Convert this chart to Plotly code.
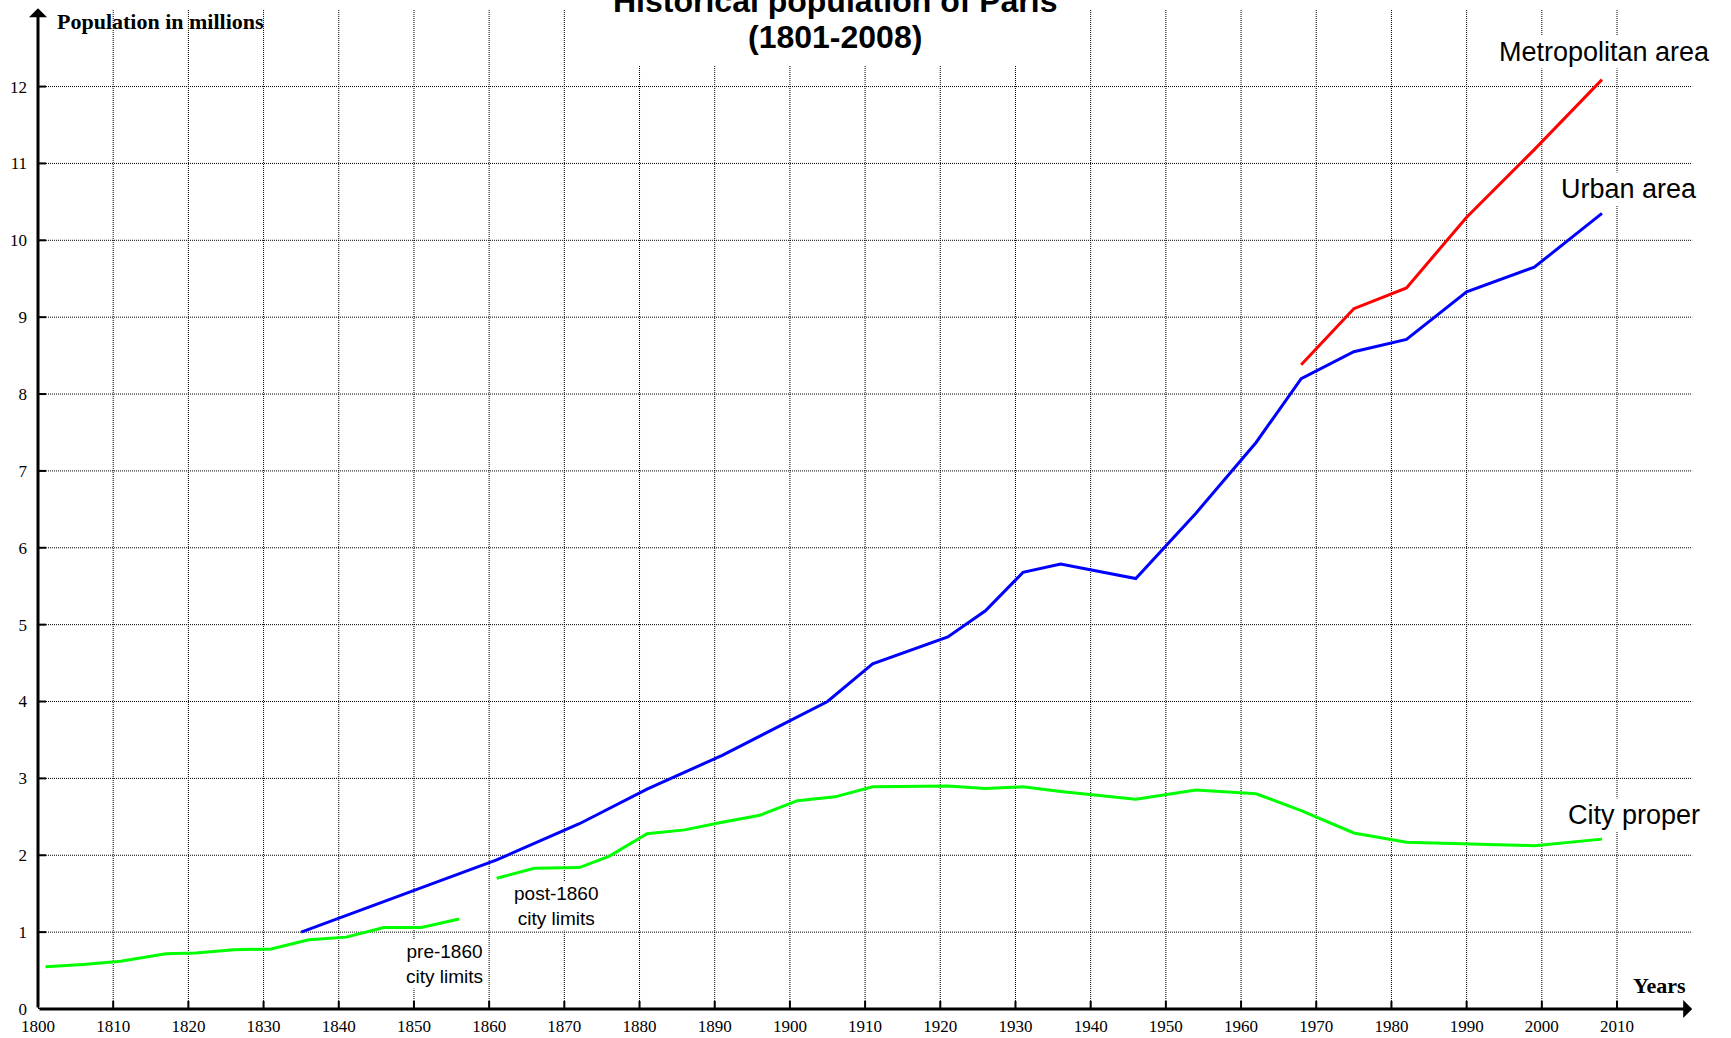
import plotly.graph_objects as go

# ---- data (millions of inhabitants) ----
city_pre_years = [1801, 1806, 1811, 1817, 1821, 1826, 1831, 1836, 1841, 1846, 1851, 1856]
city_pre_pop = [0.55, 0.58, 0.62, 0.72, 0.73, 0.77, 0.78, 0.90, 0.935, 1.06, 1.06, 1.17]

city_post_years = [1861, 1866, 1872, 1876, 1881, 1886, 1891, 1896, 1901, 1906, 1911, 1921,
                   1926, 1931, 1936, 1946, 1954, 1962, 1968, 1975, 1982, 1990, 1999, 2008]
city_post_pop = [1.70, 1.83, 1.84, 1.99, 2.28, 2.33, 2.43, 2.52, 2.71, 2.76, 2.89, 2.90,
                 2.87, 2.89, 2.83, 2.73, 2.85, 2.80, 2.58, 2.29, 2.17, 2.15, 2.125, 2.21]

urban_years = [1835, 1861, 1872, 1881, 1891, 1901, 1905, 1911, 1921, 1926, 1931, 1936,
               1946, 1954, 1962, 1968, 1975, 1982, 1990, 1999, 2008]
urban_pop = [1.00, 1.94, 2.41, 2.86, 3.30, 3.80, 4.00, 4.49, 4.84, 5.18, 5.68, 5.79,
             5.60, 6.45, 7.37, 8.20, 8.55, 8.71, 9.33, 9.65, 10.35]

metro_years = [1968, 1975, 1982, 1990, 1999, 2008]
metro_pop = [8.38, 9.11, 9.38, 10.30, 11.18, 12.09]

x_ticks = list(range(1800, 2011, 10))
y_ticks = list(range(0, 13))

X_MIN, X_MAX = 1800, 2022.5
Y_MIN, Y_MAX = 0, 13.1
X_GRID_END = 2020
Y_GRID_END = 13.0

fig = go.Figure()

line_w = 3
fig.add_trace(go.Scatter(x=city_pre_years, y=city_pre_pop, mode="lines",
                         line=dict(color="#00FF00", width=line_w), showlegend=False, hoverinfo="x+y"))
fig.add_trace(go.Scatter(x=city_post_years, y=city_post_pop, mode="lines",
                         line=dict(color="#00FF00", width=line_w), showlegend=False, hoverinfo="x+y"))
fig.add_trace(go.Scatter(x=urban_years, y=urban_pop, mode="lines",
                         line=dict(color="#0000FF", width=line_w), showlegend=False, hoverinfo="x+y"))
fig.add_trace(go.Scatter(x=metro_years, y=metro_pop, mode="lines",
                         line=dict(color="#FF0000", width=line_w), showlegend=False, hoverinfo="x+y"))

shapes = []
grid_style = dict(color="#000000", width=1, dash="1px,1px")
# vertical grid lines
for t in x_ticks[1:]:
    shapes.append(dict(type="line", xref="x", yref="y", x0=t, x1=t, y0=0, y1=Y_GRID_END,
                       line=grid_style, layer="below"))
# horizontal grid lines
for v in y_ticks[1:]:
    shapes.append(dict(type="line", xref="x", yref="y", x0=X_MIN, x1=X_GRID_END, y0=v, y1=v,
                       line=grid_style, layer="below"))
# white box behind the title
shapes.append(dict(type="rect", xref="x", yref="y", x0=1876.5, x1=1935.5, y0=12.28, y1=13.3,
                   fillcolor="white", line=dict(width=0), layer="below"))
# tick marks crossing the axes
for t in x_ticks:
    shapes.append(dict(type="line", xref="x", yref="y", ysizemode="pixel", yanchor=0,
                       x0=t, x1=t, y0=-8, y1=8, line=dict(color="black", width=2)))
for v in y_ticks:
    shapes.append(dict(type="line", xref="x", yref="y", xsizemode="pixel", xanchor=X_MIN,
                       x0=-8, x1=8, y0=v, y1=v, line=dict(color="black", width=2)))

annotations = []
# axis arrows
annotations.append(dict(x=X_GRID_END, y=0, ax=X_MIN, ay=0, xref="x", yref="y", axref="x", ayref="y",
                        text="", showarrow=True, arrowhead=1, arrowsize=1, arrowwidth=3,
                        arrowcolor="black", standoff=0, startstandoff=0))
annotations.append(dict(x=X_MIN, y=13.02, ax=X_MIN, ay=0, xref="x", yref="y", axref="x", ayref="y",
                        text="", showarrow=True, arrowhead=1, arrowsize=1, arrowwidth=3,
                        arrowcolor="black", standoff=0, startstandoff=0))

title_font = dict(family="Liberation Sans, Arial, sans-serif", size=32, color="black")
annotations.append(dict(x=1906, y=1.001, xref="x", yref="paper", text="<b>Historical population of Paris</b>",
                        showarrow=False, font=title_font, xanchor="center", yanchor="middle"))
annotations.append(dict(x=1906, y=12.65, xref="x", yref="y", text="<b>(1801-2008)</b>",
                        showarrow=False, font=title_font, xanchor="center", yanchor="middle"))

label_font = dict(family="Liberation Sans, Arial, sans-serif", size=27, color="black")
for txt, x, y in [("Metropolitan area", 2008.4, 12.45), ("Urban area", 2011.6, 10.67),
                  ("City proper", 2012.2, 2.53)]:
    annotations.append(dict(x=x, y=y, xref="x", yref="y", text=txt, showarrow=False,
                            font=label_font, bgcolor="white", borderpad=1,
                            xanchor="center", yanchor="middle"))

small_font = dict(family="Liberation Sans, Arial, sans-serif", size=19, color="black")
for txt, x, y in [("pre-1860<br>city limits", 1854.0, 0.59), ("post-1860<br>city limits", 1868.9, 1.34)]:
    annotations.append(dict(x=x, y=y, xref="x", yref="y", text=txt, showarrow=False,
                            font=small_font, bgcolor="white", borderpad=1, align="center",
                            xanchor="center", yanchor="middle"))

axis_title_font = dict(family="Liberation Serif, Times New Roman, serif", size=22, color="black")
annotations.append(dict(x=1802.3, y=12.84, xref="x", yref="y", text="<b>Population in millions</b>",
                        showarrow=False, font=axis_title_font, xanchor="left", yanchor="middle"))
annotations.append(dict(x=2015.6, y=0.30, xref="x", yref="y", text="<b>Years</b>",
                        showarrow=False, font=axis_title_font, xanchor="center", yanchor="middle"))

tick_font = dict(family="Liberation Serif, Times New Roman, serif", size=17, color="black")
fig.update_layout(
    width=1731, height=1038,
    margin=dict(l=38, r=20, t=2, b=29, pad=0, autoexpand=False),
    paper_bgcolor="white", plot_bgcolor="white",
    showlegend=False,
    shapes=shapes, annotations=annotations,
    xaxis=dict(range=[X_MIN, X_MAX], tickmode="array", tickvals=x_ticks,
               ticktext=[str(t) for t in x_ticks], ticks="", ticklabelstandoff=5,
               showgrid=False, zeroline=False, showline=False,
               tickfont=tick_font, fixedrange=True, automargin=False),
    yaxis=dict(range=[Y_MIN, Y_MAX], tickmode="array", tickvals=y_ticks,
               ticktext=[str(v) for v in y_ticks], ticks="", ticklabelstandoff=10,
               showgrid=False, zeroline=False, showline=False,
               tickfont=tick_font, fixedrange=True, automargin=False),
)

fig.write_html("out.html", config={"displayModeBar": False},
               post_script="document.body.style.margin='0';document.body.style.overflow='hidden';")
